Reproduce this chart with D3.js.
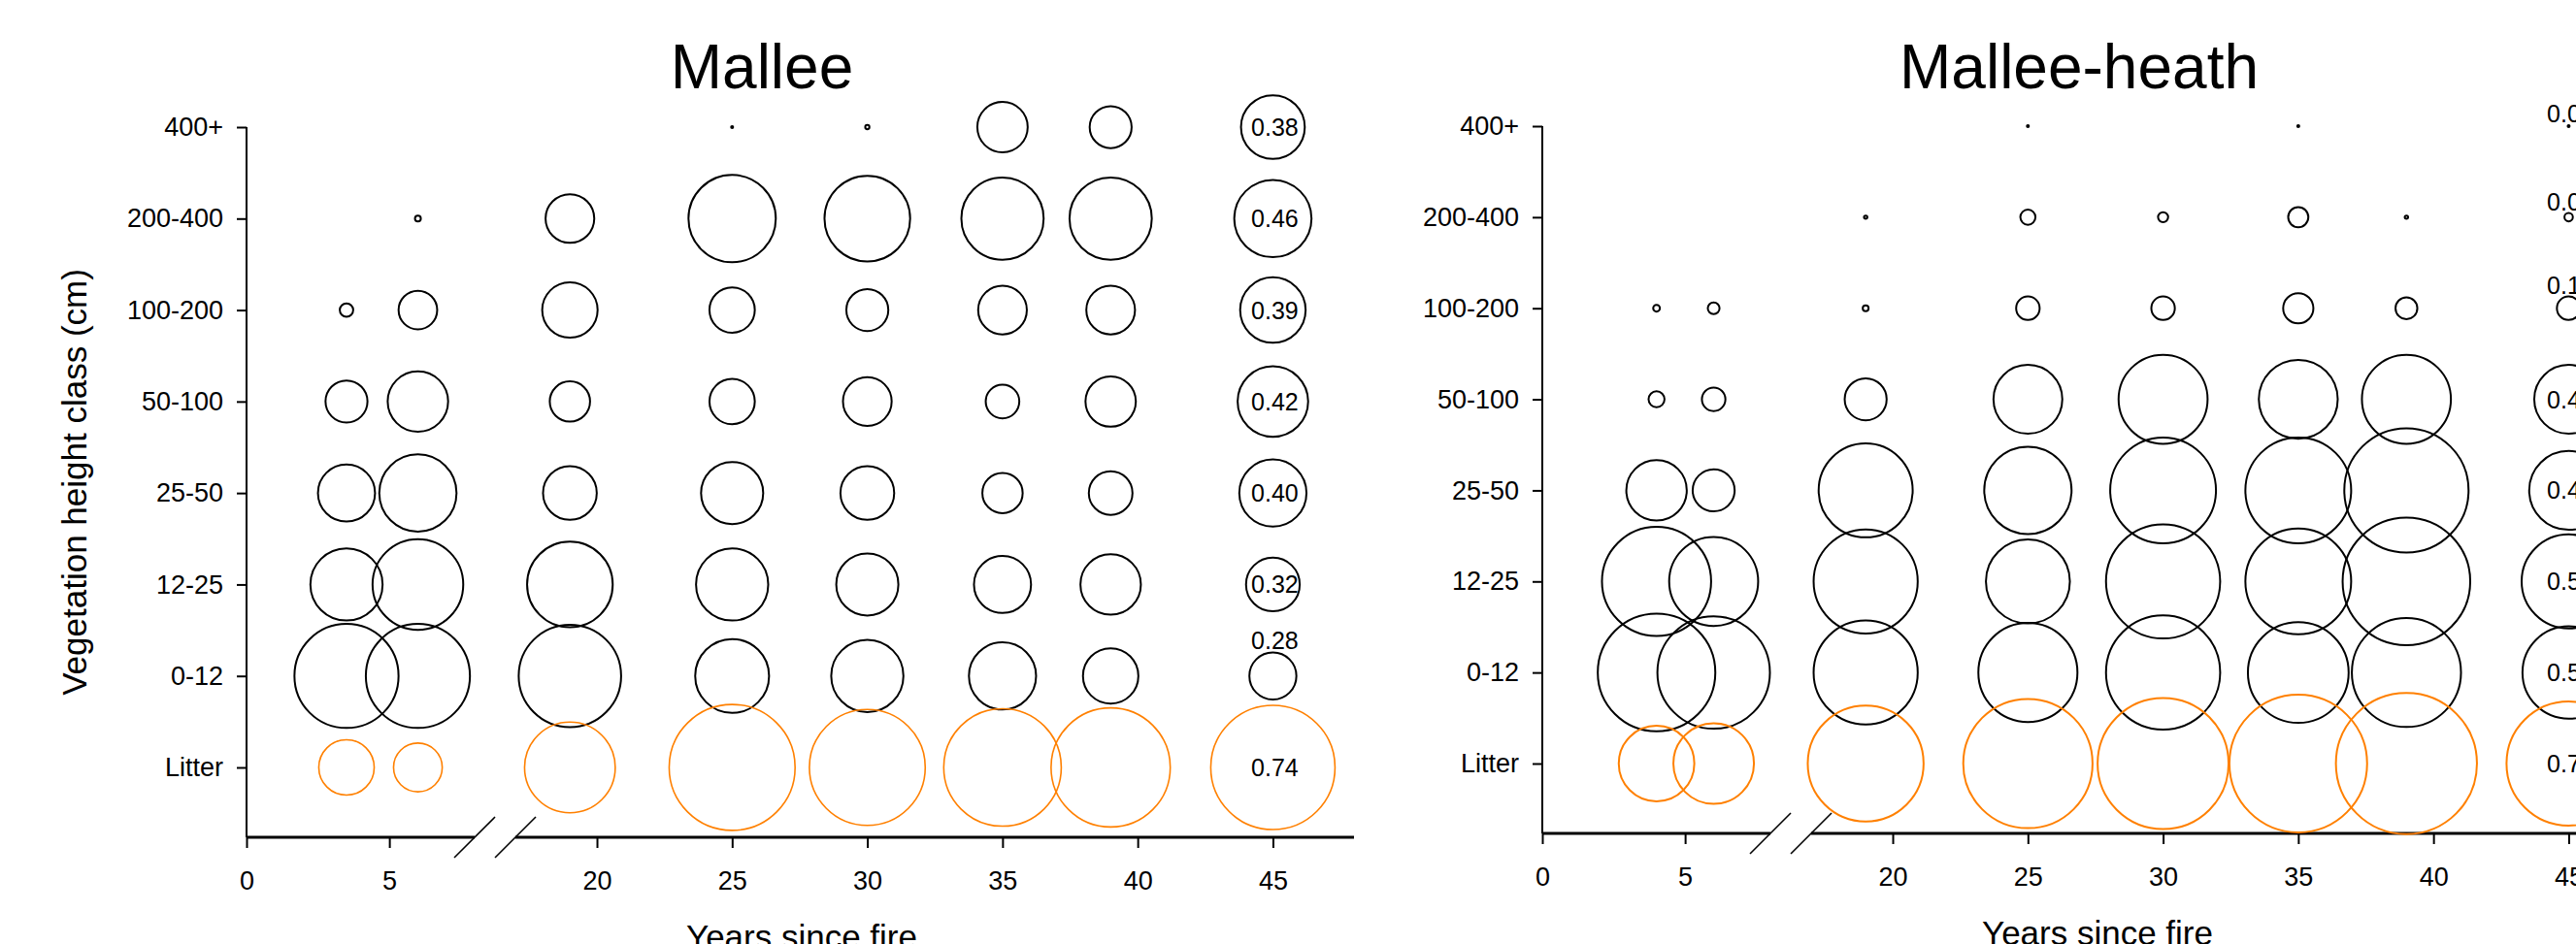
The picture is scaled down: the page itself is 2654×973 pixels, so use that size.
<!DOCTYPE html>
<meta charset="utf-8">
<script src="https://d3js.org/d3.v7.min.js"></script>
<style>
  body { margin: 0; background: #fff; }
</style>
<div id="my_dataviz"></div>

<script>

// vegetation height classes, top to bottom
var classes = ["400+", "200-400", "100-200", "50-100", "25-50", "12-25", "0-12", "Litter"];
var xTicks = [0, 5, 20, 25, 30, 35, 40, 45];

// Mallee: one row per site age, one value per height class (same order as classes)
var malleeYears = [3.5, 6, 19, 25, 30, 35, 39, 45];
var malleeValues = [
  [0, 0, 0.08, 0.25, 0.34, 0.43, 0.62, 0.33],
  [0, 0.035, 0.23, 0.36, 0.46, 0.54, 0.62, 0.29],
  [0, 0.29, 0.33, 0.24, 0.32, 0.51, 0.61, 0.54],
  [0.012, 0.52, 0.27, 0.27, 0.37, 0.43, 0.44, 0.75],
  [0.025, 0.51, 0.25, 0.29, 0.32, 0.37, 0.43, 0.69],
  [0.30, 0.49, 0.29, 0.20, 0.24, 0.34, 0.40, 0.70],
  [0.25, 0.49, 0.29, 0.30, 0.26, 0.36, 0.33, 0.71],
  [0.38, 0.46, 0.39, 0.42, 0.40, 0.32, 0.28, 0.74]
];

// Mallee-heath
var heathYears = [4, 6, 19, 25, 30, 35, 39, 45];
var heathValues = [
  [0, 0, 0.04, 0.095, 0.36, 0.65, 0.70, 0.45],
  [0, 0, 0.07, 0.14, 0.25, 0.53, 0.67, 0.48],
  [0, 0.02, 0.035, 0.25, 0.56, 0.62, 0.62, 0.69],
  [0.012, 0.09, 0.14, 0.41, 0.52, 0.50, 0.59, 0.77],
  [0, 0.06, 0.14, 0.53, 0.63, 0.68, 0.68, 0.78],
  [0.012, 0.12, 0.18, 0.47, 0.63, 0.63, 0.60, 0.82],
  [0, 0.02, 0.13, 0.53, 0.74, 0.76, 0.65, 0.84],
  [0.01, 0.05, 0.14, 0.41, 0.47, 0.56, 0.55, 0.74]
];

// the oldest sites get their value printed
var labelYear = 45;

var W = 2654, H = 973;
var font = "'Liberation Sans', Arial, sans-serif";

var panels = [
  {title: "Mallee", years: malleeYears, values: malleeValues, left: 254, top: 131, litter: 791, axisY: 863, titleDx: 531, yTitle: true, litterWidth: 1.6},
  {title: "Mallee-heath", years: heathYears, values: heathValues, left: 1589, top: 130, litter: 787, axisY: 859, titleDx: 553, yTitle: false, litterWidth: 2}
];

var svg = d3.select("#my_dataviz")
  .append("svg")
  .attr("width", W)
  .attr("height", H)
  .style("font-family", font);

// broken x axis: 0-8.7 then 16.2-48
var x = d3.scaleLinear()
  .domain([0, 8.7, 16.23, 48])
  .range([0, 256, 256, 1141]);
var breakA = 235, breakB = 277;

var r = d3.scaleLinear().domain([0, 1]).range([0, 86.5]);

panels.forEach(function(p) {
  var g = svg.append("g").attr("transform", "translate(" + p.left + ",0)");

  var y = d3.scalePoint()
    .domain(classes)
    .range([p.top, p.litter]);

  // title
  g.append("text")
    .attr("x", p.titleDx)
    .attr("y", 91)
    .attr("text-anchor", "middle")
    .attr("font-size", 64)
    .text(p.title);

  // Y axis
  var yAxis = g.append("g")
    .call(d3.axisLeft(y).tickSize(10).tickSizeOuter(0).tickPadding(14));
  yAxis.select(".domain").remove();
  yAxis.selectAll("line").attr("stroke", "#000").attr("stroke-width", 2);
  yAxis.selectAll("text").attr("font-size", 27).attr("font-family", font).attr("fill", "#000");
  g.append("line")
    .attr("x1", 0).attr("x2", 0)
    .attr("y1", p.top).attr("y2", p.axisY)
    .attr("stroke", "#000").attr("stroke-width", 2);

  // X axis
  var xAxis = g.append("g")
    .attr("transform", "translate(0," + p.axisY + ")")
    .call(d3.axisBottom(x).tickValues(xTicks).tickSize(11).tickSizeOuter(0).tickPadding(24));
  xAxis.select(".domain").remove();
  xAxis.selectAll("line").attr("stroke", "#000").attr("stroke-width", 2);
  xAxis.selectAll("text").attr("font-size", 27).attr("font-family", font).attr("fill", "#000");

  // axis line in two pieces around the break
  [[0, breakA], [breakB, x.range()[3]]].forEach(function(seg) {
    g.append("line")
      .attr("x1", seg[0]).attr("x2", seg[1])
      .attr("y1", p.axisY).attr("y2", p.axisY)
      .attr("stroke", "#000").attr("stroke-width", 3);
  });
  // break marks
  [breakA, breakB].forEach(function(bx) {
    g.append("line")
      .attr("x1", bx - 21).attr("y1", p.axisY + 21)
      .attr("x2", bx + 21).attr("y2", p.axisY - 21)
      .attr("stroke", "#000").attr("stroke-width", 1.6);
  });

  // axis titles
  g.append("text")
    .attr("x", 572)
    .attr("y", p.axisY + 115)
    .attr("text-anchor", "middle")
    .attr("font-size", 35)
    .text("Years since fire");

  if (p.yTitle) {
    g.append("text")
      .attr("transform", "translate(" + (89 - p.left) + "," + ((p.top + p.axisY) / 2) + ")rotate(-90)")
      .attr("text-anchor", "middle")
      .attr("font-size", 35)
      .text("Vegetation height class (cm)");
  }

  // flatten to one record per bubble
  var cells = [];
  p.years.forEach(function(yr, i) {
    classes.forEach(function(c, j) {
      if (p.values[i][j] > 0) cells.push({year: yr, cls: c, v: p.values[i][j]});
    });
  });

  g.append("g")
    .selectAll("circle")
    .data(cells)
    .enter().append("circle")
      .attr("cx", function(d) { return x(d.year); })
      .attr("cy", function(d) { return y(d.cls); })
      .attr("r", function(d) { return Math.max(r(d.v), 1); })
      .attr("fill", "none")
      .attr("stroke", function(d) { return d.cls === "Litter" ? "#ff8000" : "#000"; })
      .attr("stroke-width", function(d) { return d.cls === "Litter" ? p.litterWidth : 2; });

  // printed values: inside big bubbles, above small ones
  g.append("g")
    .selectAll("text")
    .data(cells.filter(function(d) { return d.year === labelYear; }))
    .enter().append("text")
      .attr("x", function(d) { return x(d.year) + 2; })
      .attr("y", function(d) {
        var rr = r(d.v);
        return rr >= 26 ? y(d.cls) + 9 : y(d.cls) - rr - 3;
      })
      .attr("text-anchor", "middle")
      .attr("font-size", 25)
      .text(function(d) { return d3.format(".2f")(d.v); });
});

</script>
